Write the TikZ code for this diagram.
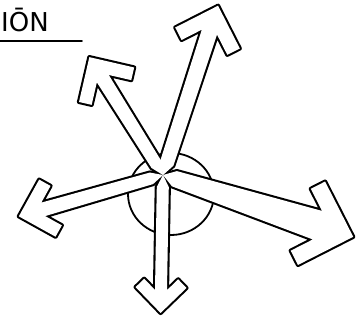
\documentclass[tikz,border=0pt]{standalone}
\usepackage{fontspec}
\setmainfont{DejaVu Sans}
\newcommand{\fatarrpath}[6]{%
  % #1 angle, #2 length, #3 arm, #4 thickness, #5 w0, #6 w1
  \begin{scope}[shift={(163,175)}, rotate=#1]
    \path[arrowpart] (0,0) -- (12,#5) -- ({#2-1.4142*#4-#6},#6)
      -- ({#2-0.7071*#3-0.7071*#4},{0.7071*#3-0.7071*#4})
      -- ({#2-0.7071*#3},{0.7071*#3}) -- (#2,0)
      -- ({#2-0.7071*#3},{-0.7071*#3})
      -- ({#2-0.7071*#3-0.7071*#4},{-0.7071*#3+0.7071*#4})
      -- ({#2-1.4142*#4-#6},-#6) -- (12,-#5) -- cycle;
  \end{scope}}
\newcommand{\allarrows}{%
  \fatarrpath{72}{178}{48}{14}{7}{8}%
  \fatarrpath{122}{139}{46}{13}{6}{7}%
  \fatarrpath{196}{150}{42}{13}{6}{7}%
  \fatarrpath{269}{138}{36}{12}{6}{6}%
  \fatarrpath{342}{200}{62}{16}{8}{15}%
}
\begin{document}
\begin{tikzpicture}[x=1pt, y=-1pt, line join=round, line cap=round]
  \useasboundingbox (0,0) rectangle (356,329);
  \fill[white] (0,0) rectangle (356,329);
  % title
  \node[anchor=base west, inner sep=0pt, font=\fontsize{26}{28}\selectfont] (title) at (1,32) {IŌN};
  \draw[line width=1.8pt] (0,41) -- (82,41);
  % circle
  \draw[line width=1.8pt] (171,194) ellipse [x radius=43, y radius=41];
  % arrows: thick outline, then white fill -> union outline
  \tikzset{arrowpart/.style={draw=black, line width=4.2pt}}
  \allarrows
  \tikzset{arrowpart/.style={fill=white}}
  \allarrows
\end{tikzpicture}
\end{document}
